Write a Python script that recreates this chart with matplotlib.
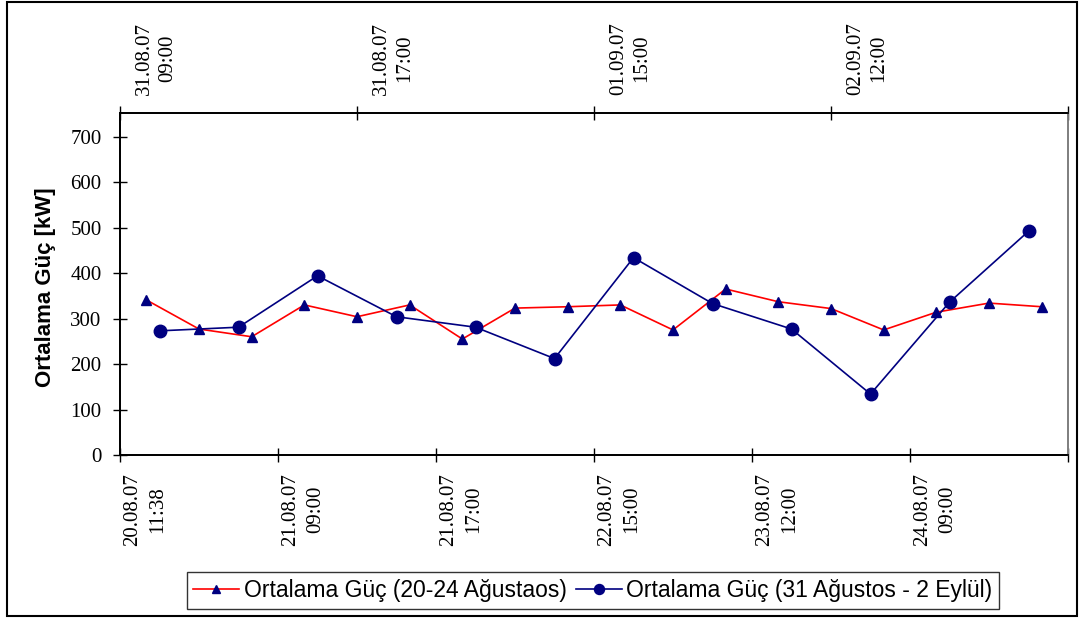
import matplotlib
matplotlib.use("Agg")
import matplotlib.pyplot as plt
import matplotlib.transforms as mtransforms
from matplotlib.patches import Rectangle

# ---- data ----
red_values = [341, 277, 260, 330, 304, 330, 255, 323, 326, 330, 275, 365, 337, 322, 275, 314, 334, 326]
blue_values = [273, 281, 394, 304, 281, 212, 434, 333, 277, 134, 336, 492]
bottom_labels = ["20.08.07\n11:38", "21.08.07\n09:00", "21.08.07\n17:00",
                 "22.08.07\n15:00", "23.08.07\n12:00", "24.08.07\n09:00"]
top_labels = ["31.08.07\n09:00", "31.08.07\n17:00", "01.09.07\n15:00", "02.09.07\n12:00"]
red_name = "Ortalama Güç (20-24 Ağustaos)"
blue_name = "Ortalama Güç (31 Ağustos - 2 Eylül)"
y_label = "Ortalama Güç [kW]"
y_ticks = [0, 100, 200, 300, 400, 500, 600, 700]

W, H = 1080, 619
fig = plt.figure(figsize=(W / 100, H / 100), dpi=100)
fig.patch.set_facecolor("white")

left, right, bottom, top = 120, 1068, 455, 113
ax = fig.add_axes([left / W, 1 - bottom / H, (right - left) / W, (bottom - top) / H])
ax2 = ax.twiny()

serif = "Liberation Serif"
sans = "Liberation Sans"
tick_fs = 15

n_red = len(red_values)
n_blue = len(blue_values)
xr = [i + 0.5 for i in range(n_red)]
xb = [i + 0.5 for i in range(n_blue)]

l1, = ax.plot(xr, red_values, color="#FF0000", lw=1.2, marker="^", ms=7,
              mfc="#000080", mec="#000080", zorder=3)
l2, = ax2.plot(xb, blue_values, color="#000080", lw=1.2, marker="o", ms=9,
               mfc="#000080", mec="#000080", zorder=4)

ax.set_xlim(0, n_red)
ax2.set_xlim(0, n_blue)
ax.set_ylim(0, 752)
ax.set_yticks(y_ticks)
ax.set_yticklabels([str(v) for v in y_ticks], fontfamily=serif, fontsize=tick_fs)

ax.set_xticks(list(range(0, n_red + 1, 3)))
ax.set_xticklabels([])
ax2.set_xticks(list(range(0, n_blue + 1, 3)))
ax2.set_xticklabels([])

for a in (ax, ax2):
    a.tick_params(axis="both", direction="inout", length=10.5, width=1, color="black")
ax.tick_params(axis="y", pad=8)

for a in (ax, ax2):
    for s in ("left", "bottom", "top"):
        a.spines[s].set_color("black")
        a.spines[s].set_linewidth(1.3)
    a.spines["right"].set_color("#808080")
    a.spines["right"].set_linewidth(1.3)

# bottom category labels
for i, lab in enumerate(bottom_labels):
    trans = mtransforms.offset_copy(ax.get_xaxis_transform(), fig=fig, x=25, y=-18, units="dots")
    ax.text(i * 3, 0, lab, rotation=90, ha="center", va="top", ma="center",
            fontfamily=serif, fontsize=tick_fs, transform=trans, linespacing=1.4)

# top category labels
for i, lab in enumerate(top_labels):
    trans = mtransforms.offset_copy(ax2.get_xaxis_transform(), fig=fig, x=36, y=18, units="dots")
    ax2.text(i * 3, 1, lab, rotation=90, ha="center", va="bottom", ma="center",
             fontfamily=serif, fontsize=tick_fs, transform=trans, linespacing=1.3)

fig.text(46 / W, 1 - 287 / H, y_label, rotation=90, ha="center", va="center",
         fontfamily=sans, fontweight="bold", fontsize=16)

leg = fig.legend([l1, l2], [red_name, blue_name], loc="center",
                 bbox_to_anchor=(593 / W, 1 - 590.5 / H), ncol=2,
                 prop={"family": sans, "size": 16.5}, frameon=True, fancybox=False,
                 edgecolor="black", handlelength=2.0, handletextpad=0.2,
                 columnspacing=0.4, borderpad=0.3, borderaxespad=0, markerscale=0.8)
leg.get_frame().set_linewidth(1.0)
leg._legend_box.sep = 4

# outer border
fig.patches.append(Rectangle((7 / W, 1 - 616 / H), (1077 - 7) / W, (616 - 2) / H,
                             transform=fig.transFigure, fill=False,
                             edgecolor="black", linewidth=1.5))

fig.savefig("out.png", dpi=100, facecolor="white")
